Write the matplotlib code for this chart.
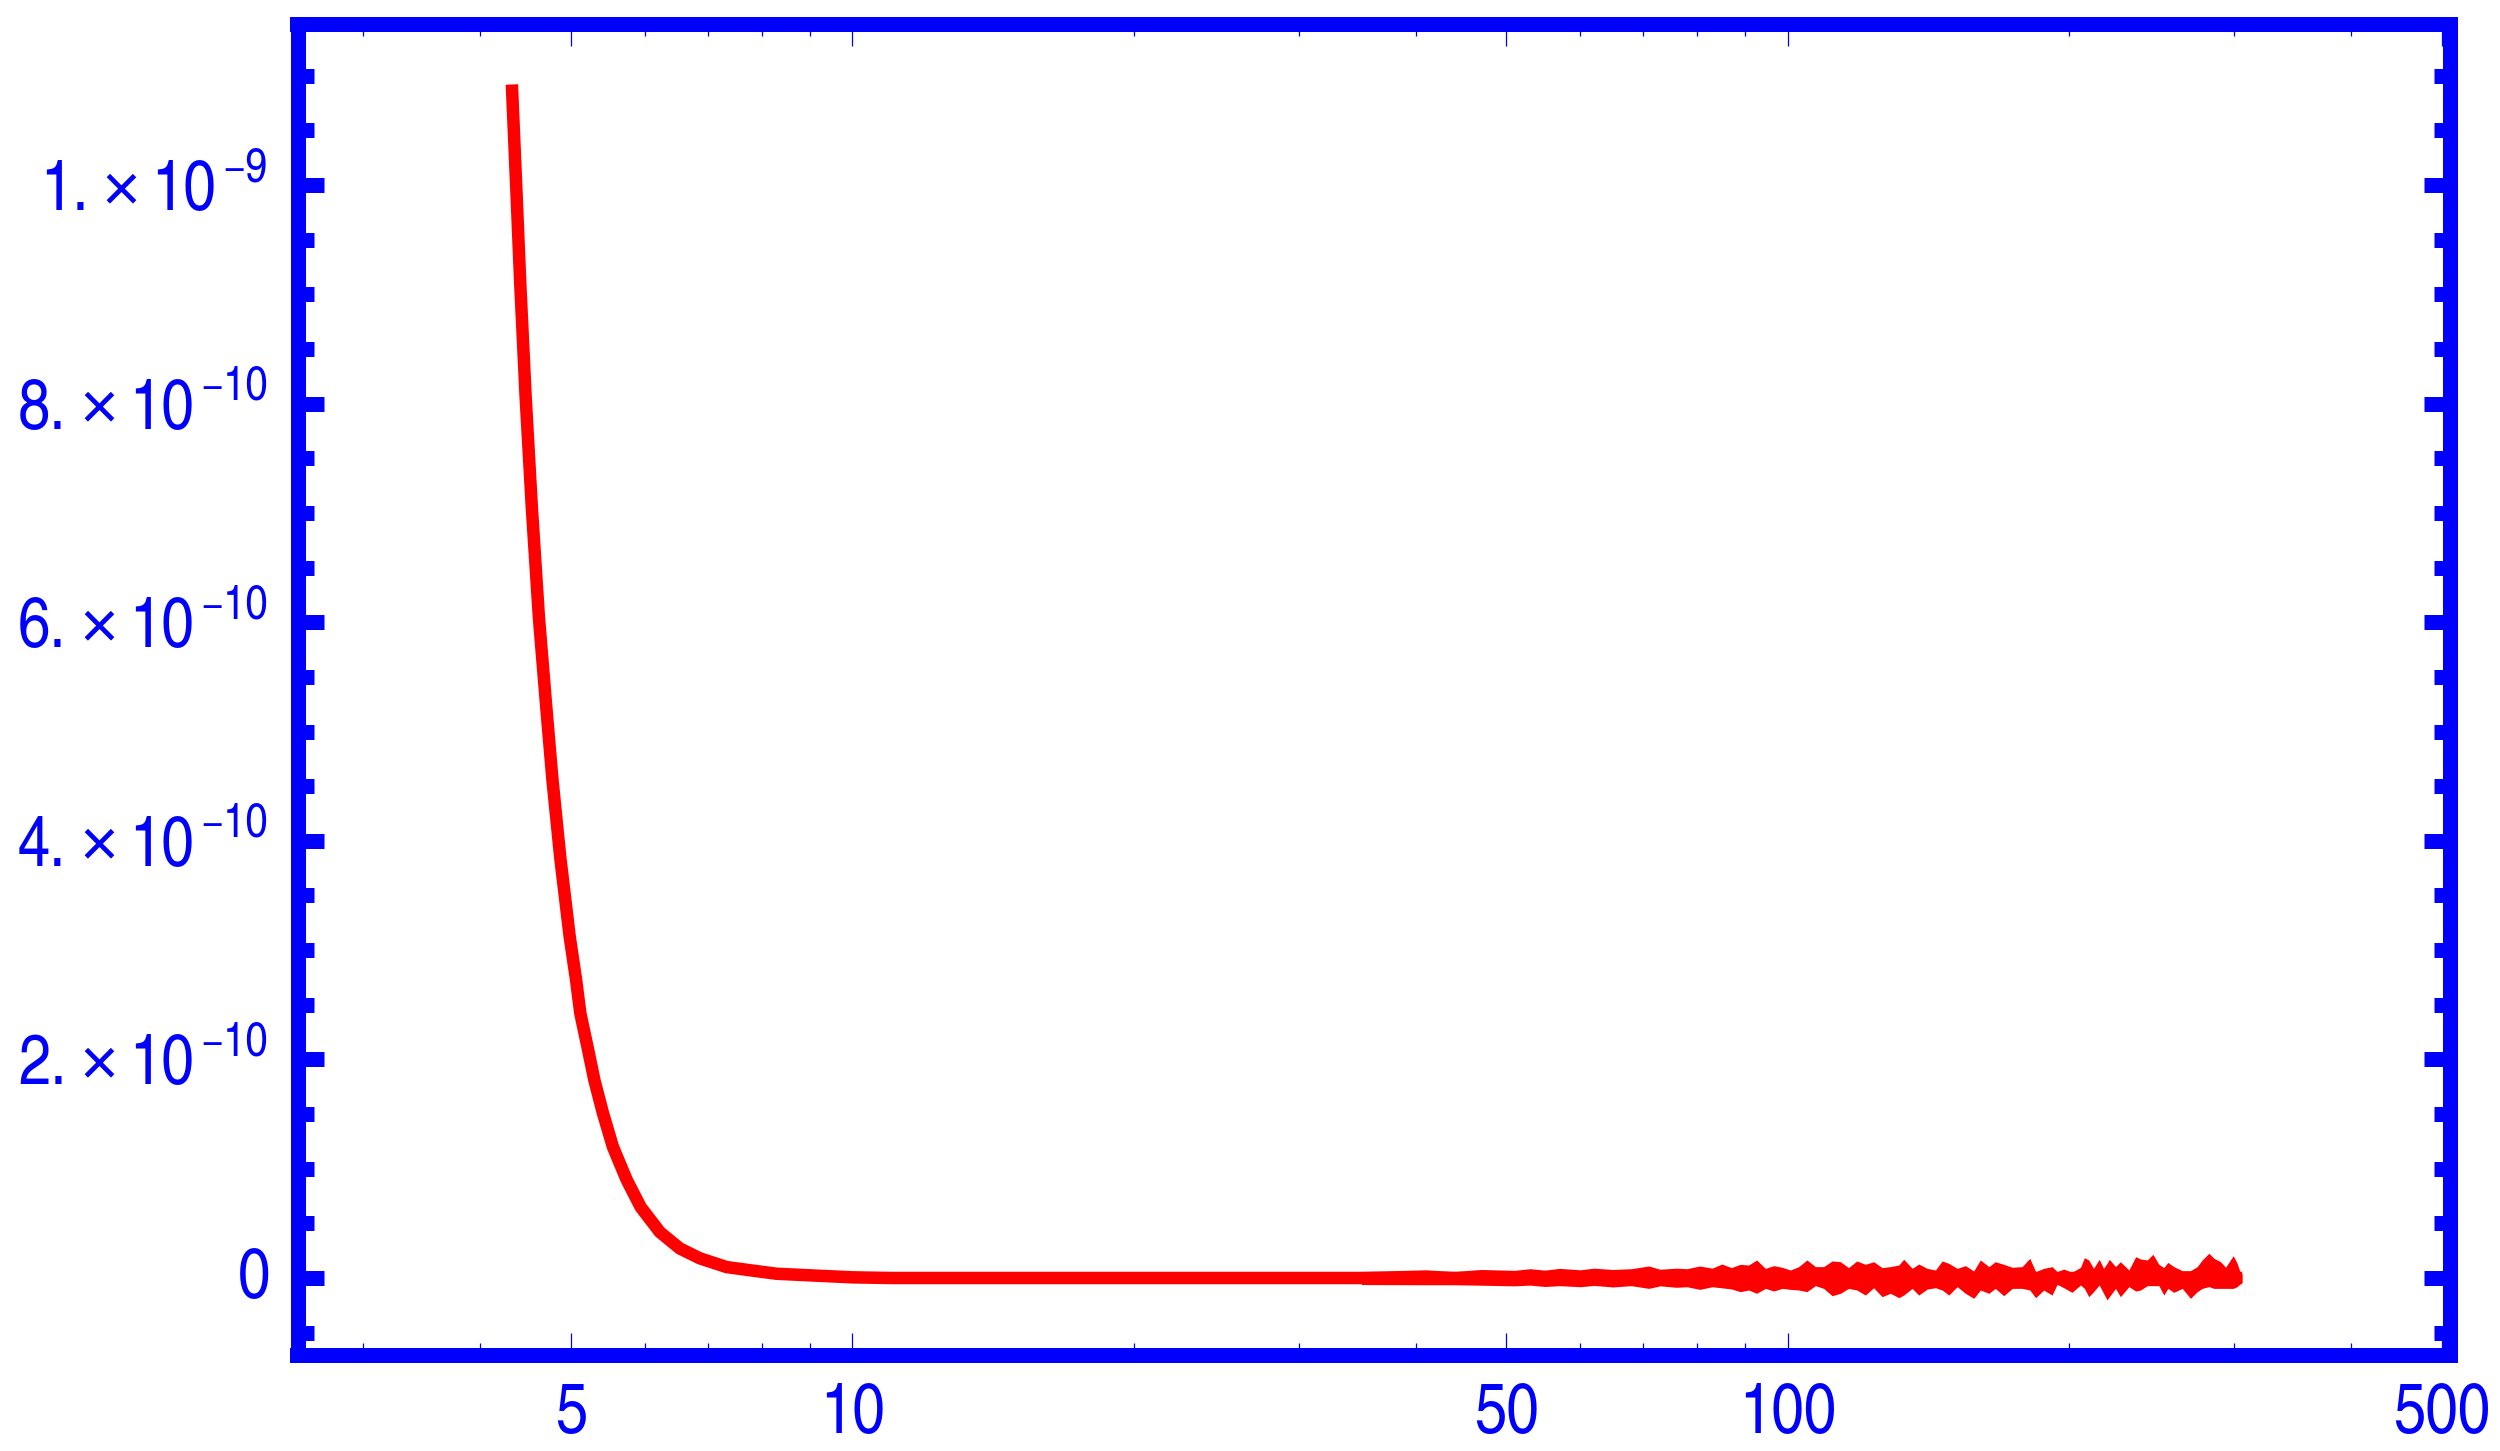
import matplotlib
matplotlib.use('Agg')
import matplotlib.pyplot as plt
from matplotlib.ticker import FixedLocator, FixedFormatter, NullFormatter

# smooth decay (x, value in units of 1e-10)
decay_x = [4.324, 4.374, 4.414, 4.472, 4.541, 4.622, 4.699, 4.777, 4.872,
           4.986, 5.064, 5.118, 5.207, 5.298, 5.410, 5.545, 5.735, 5.936, 6.224,
           6.539, 6.869, 7.335, 7.832, 8.295, 9.228, 10.01, 11.0, 12.0, 20.0,
           30.0, 50.0, 100.0, 200.0, 305.9]
decay_y = [10.92, 9.92, 9.10, 8.08, 7.06, 6.04, 5.29, 4.57, 3.84,
           3.12, 2.73, 2.42, 2.12, 1.81, 1.51, 1.20, 0.90, 0.65, 0.42,
           0.27, 0.18, 0.10, 0.067, 0.039, 0.02, 0.006, 0.0, 0.0, 0.0,
           0.0, 0.0, 0.0, 0.0, 0.0]

# noisy tail, visible upper/lower edges of the red band (units of 1e-11)
noise_x = [35.0, 41.0, 44.0, 47.0, 51.0, 53.0, 55.0, 57.0, 60.0, 62.0, 65.0, 68.0,
           71.0, 73.0, 76.0, 78.0, 80.5, 83.0, 85.0, 87.0,
           88.95, 90.8, 92.6, 94.6, 96.6, 98.6, 100.6, 102.7, 104.8, 107.0,
           109.2, 111.5, 113.8, 116.1, 118.5, 121.0, 123.5, 126.1, 128.7, 131.4,
           133.0, 135.8, 138.0, 140.9, 143.8, 146.2, 148.6, 151.7, 154.8, 158.0,
           160.6, 164.0, 166.6, 170.1, 173.7, 178.0, 181.4, 184.0, 187.7, 191.6,
           194.0, 197.2, 201.2, 205.5, 207.5, 209.7, 212.2, 215.2, 217.5, 219.4,
           220.6, 224.0, 226.7, 231.5, 235.4, 238.2, 242.2, 245.6, 249.2, 252.3,
           254.8, 258.6, 264.0, 269.4, 273.9, 277.3, 281.9, 285.4, 290.1, 293.7,
           299.3, 302.2, 304.7, 305.9]
noise_hi = [0.6, 0.75, 0.6, 0.78, 0.7, 0.85, 0.72, 0.88, 0.75, 0.9, 0.78, 0.85,
            1.1, 0.8, 0.9, 0.85, 1.1, 0.9, 1.28, 0.95,
            1.25, 1.19, 1.65, 0.88, 1.13, 0.98, 0.73, 1.04, 1.65, 1.04,
            1.04, 1.56, 1.49, 0.95, 1.56, 1.25, 1.49, 0.95, 1.04, 1.19,
            1.71, 0.88, 1.28, 0.88, 0.73, 1.56, 1.34, 0.88, 1.13, 0.64,
            1.65, 1.04, 1.49, 1.25, 0.98, 1.04, 1.80, 0.58, 0.88, 1.04,
            0.58, 0.82, 0.52, 0.98, 1.86, 1.65, 0.88, 1.71, 0.88, 1.34,
            1.71, 1.04, 1.49, 0.73, 1.95, 1.74, 1.65, 2.17, 1.25, 0.95,
            1.43, 1.04, 0.67, 0.67, 1.04, 1.65, 2.26, 1.80, 1.49, 0.98,
            2.04, 1.34, 0.43, 0.4]
noise_lo = [-0.6, -0.62, -0.62, -0.66, -0.72, -0.65, -0.78, -0.7, -0.8, -0.68, -0.82, -0.7,
            -0.95, -0.72, -0.85, -0.8, -1.04, -0.8, -0.9, -1.0,
            -1.25, -1.10, -1.40, -0.95, -1.19, -0.95, -1.04, -1.10, -1.25, -0.70,
            -0.95, -1.62, -1.40, -0.95, -1.10, -1.56, -0.89, -1.71, -1.40, -1.80,
            -1.56, -0.95, -1.56, -1.01, -0.89, -1.10, -1.56, -0.79, -1.40, -1.86,
            -1.10, -1.40, -0.95, -1.62, -0.95, -0.95, -1.10, -1.80, -1.10, -1.56,
            -0.58, -0.89, -1.31, -0.64, -0.95, -1.71, -1.25, -0.64, -1.40, -2.01,
            -1.71, -0.95, -1.71, -0.79, -1.19, -1.10, -0.70, -0.70, -0.70, -1.56,
            -0.95, -1.31, -0.95, -1.86, -1.25, -0.95, -0.79, -0.95, -0.95, -0.95,
            -0.95, -0.79, -0.49, -0.4]

x_major = [5, 10, 50, 100, 500]
x_major_labels = ['5', '10', '50', '100', '500']
x_minor = [3, 4, 6, 7, 8, 9, 20, 30, 40, 60, 70, 80, 90, 200, 300, 400]
y_major = [0, 2e-10, 4e-10, 6e-10, 8e-10, 1e-9]
y_mantissa = ['0', '2.', '4.', '6.', '8.', '1.']
y_exponent = ['', '\u221210', '\u221210', '\u221210', '\u221210', '\u22129']
y_minor = [k * 5e-11 for k in range(-1, 24)]

BLUE = '#0000ff'
RED = '#ff0000'
FS = 51       # label size
FS_SUP = 35   # exponent size

# Helvetica-narrow look of the labels
plt.rcParams['font.family'] = ['TeX Gyre Heros Cn', 'Liberation Sans', 'DejaVu Sans']

fig = plt.figure(figsize=(25, 14.51), dpi=100)
ax = fig.add_axes([0.119, 0.0665, 0.861, 0.9173])

ax.plot(decay_x, [v * 1e-10 for v in decay_y], color=RED, lw=9,
        solid_capstyle='butt', solid_joinstyle='round', zorder=3)
ax.fill_between(noise_x, [v * 1e-11 for v in noise_hi], [v * 1e-11 for v in noise_lo],
                color=RED, lw=0, zorder=3)

ax.set_xscale('log')
ax.set_xlim(2.551, 510.3)
ax.set_ylim(-0.70e-10, 1.1478e-9)

ax.xaxis.set_major_locator(FixedLocator(x_major))
ax.xaxis.set_major_formatter(FixedFormatter(x_major_labels))
ax.xaxis.set_minor_locator(FixedLocator(x_minor))
ax.xaxis.set_minor_formatter(NullFormatter())
ax.yaxis.set_major_locator(FixedLocator(y_major))
ax.yaxis.set_major_formatter(NullFormatter())
ax.yaxis.set_minor_locator(FixedLocator(y_minor))

for s in ax.spines.values():
    s.set_linewidth(10.8)
    s.set_color(BLUE)
    s.set_capstyle('projecting')

ax.tick_params(axis='x', which='both', direction='in', top=True, bottom=True,
               color=BLUE, labelcolor=BLUE, labelsize=FS, pad=20)
ax.tick_params(axis='x', which='major', length=15.5, width=0.9)
ax.tick_params(axis='x', which='minor', length=8.3, width=0.9)
ax.tick_params(axis='y', which='both', direction='in', left=True, right=True,
               color=BLUE)
ax.tick_params(axis='y', which='major', length=18.4, width=10.8)
ax.tick_params(axis='y', which='minor', length=11.2, width=10.8)

# y tick labels in the "2. x 10^-10" style, built right to left
ycoords = ('axes fraction', 'data')
for v, man, ex in zip(y_major, y_mantissa, y_exponent):
    if ex == '':
        ax.annotate(man, xy=(0, v), xycoords=ycoords, xytext=(-27, -20),
                    textcoords='offset pixels', ha='right', va='baseline',
                    fontsize=FS, color=BLUE)
        continue
    t_ex = ax.annotate(ex, xy=(0, v), xycoords=ycoords, xytext=(-30, 4),
                       textcoords='offset pixels', ha='right', va='baseline',
                       fontsize=FS_SUP, color=BLUE)
    t_ten = ax.annotate('10', xy=(0, v), xycoords=(t_ex, 'data'), xytext=(-6, -25),
                        textcoords='offset pixels', ha='right', va='baseline',
                        fontsize=FS, color=BLUE)
    t_x = ax.annotate('\u00d7', xy=(0, v), xycoords=(t_ten, 'data'), xytext=(-11, -25),
                      textcoords='offset pixels', ha='right', va='baseline',
                      fontsize=48, color=BLUE, family=['Liberation Sans', 'DejaVu Sans'])
    ax.annotate(man, xy=(0, v), xycoords=(t_x, 'data'), xytext=(-13, -25),
                textcoords='offset pixels', ha='right', va='baseline',
                fontsize=FS, color=BLUE)

fig.savefig('out.png', dpi=100)
